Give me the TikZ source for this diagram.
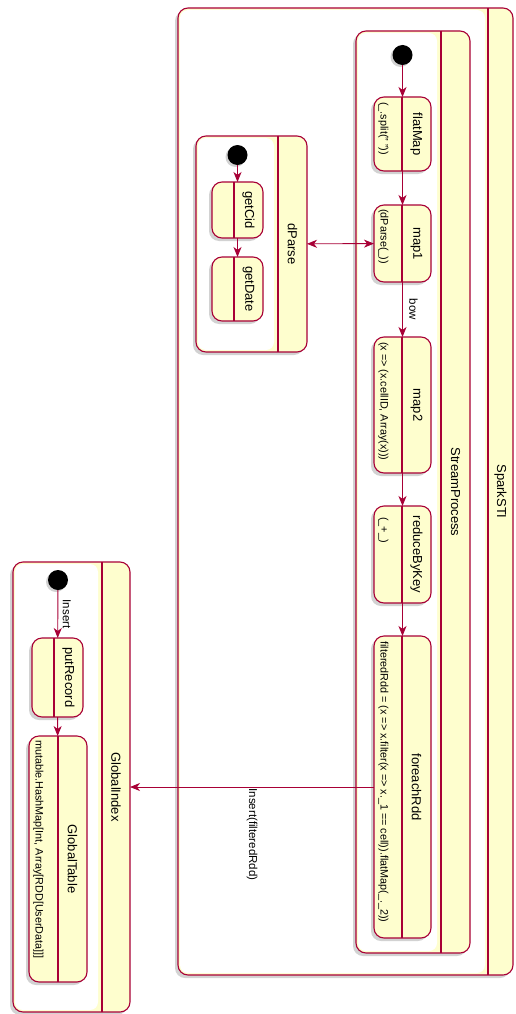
\documentclass[tikz,border=0pt]{standalone}
\usepackage{fontspec}
\setmainfont{Liberation Sans}
\usetikzlibrary{arrows.meta,shadows}
\definecolor{umlred}{HTML}{A80036}
\definecolor{umlfill}{HTML}{FEFECE}

\begin{document}
\begin{tikzpicture}[
x=1pt,y=-1pt,
composite/.style={draw=umlred,fill=umlfill,line width=1.1pt,rounded corners=10pt,inner sep=0pt,outer sep=0pt,
    drop shadow={shadow xshift=-3pt,shadow yshift=-3pt,opacity=.35}},
state/.style={composite,minimum width=57pt},
small state/.style={state,minimum width=51pt},
body/.style={fill=white,rounded corners=8pt},
splitline/.style={color=umlred,line width=1.1pt},
initial/.style={circle,fill=black,inner sep=0pt,minimum size=20pt,
    drop shadow={shadow xshift=-2pt,shadow yshift=-2pt,opacity=.35}},
edge/.style={umlred,line width=.9pt,-{Stealth[length=10pt,width=8pt,inset=3pt]}},
both edge/.style={edge,{Stealth[length=10pt,width=8pt,inset=3pt]}-{Stealth[length=10pt,width=8pt,inset=3pt]}},
title text/.style={rotate=-90,inner sep=0pt,font=\fontsize{13}{15}\selectfont},
desc text/.style={rotate=-90,anchor=west,inner sep=0pt,font=\fontsize{10.8}{13}\selectfont},
edge label/.style={rotate=-90,inner sep=1pt,text=black,font=\fontsize{11.5}{13}\selectfont}
]
\useasboundingbox (0,0) rectangle (515,1014);

% outer composite
\node[composite,minimum width=335pt,minimum height=967pt] (sparksti) at (345.5,491.5) {};
\path[body] ([xshift=2pt,yshift=-2pt]sparksti.north west) rectangle ([xshift=-28pt,yshift=2pt]sparksti.south east);
\draw[splitline] ([xshift=-25pt]sparksti.north east) -- ([xshift=-25pt]sparksti.south east);
\node[title text] at ([xshift=-12.5pt]sparksti.east) {SparkSTI};

% stream processing chain
\node[composite,minimum width=114pt,minimum height=922pt] (stream) at (413,492) {};
\path[body] ([xshift=2pt,yshift=-2pt]stream.north west) rectangle ([xshift=-33pt,yshift=2pt]stream.south east);
\draw[splitline] ([xshift=-29pt]stream.north east) -- ([xshift=-29pt]stream.south east);
\node[title text] at ([xshift=-14.5pt]stream.east) {StreamProcess};

\node[initial] (s0) at (402.5,55) {};
\node[state,minimum height=74pt] (flatmap) at (402.5,134) {};
\node[state,minimum height=77pt] (map1) at (402.5,243.5) {};
\node[state,minimum height=136pt] (map2) at (402.5,405) {};
\node[state,minimum height=97pt] (reduce) at (402.5,554.5) {};
\node[state,minimum height=302pt] (foreach) at (402.5,787) {};

% parser
\node[composite,minimum width=111pt,minimum height=216pt] (dparse) at (251.5,244) {};
\path[body] ([xshift=2pt,yshift=-2pt]dparse.north west) rectangle ([xshift=-33pt,yshift=2pt]dparse.south east);
\draw[splitline] ([xshift=-29pt]dparse.north east) -- ([xshift=-29pt]dparse.south east);
\node[title text] at ([xshift=-14.5pt]dparse.east) {dParse};

\node[initial] (d0) at (237.5,155) {};
\node[small state,minimum height=56pt] (getcid) at (237.5,210) {};
\node[small state,minimum height=64pt] (getdate) at (237.5,289) {};

% global index
\node[composite,minimum width=117pt,minimum height=450pt] (globalindex) at (71.5,787) {};
\path[body] ([xshift=2pt,yshift=-2pt]globalindex.north west) rectangle ([xshift=-32pt,yshift=2pt]globalindex.south east);
\draw[splitline] ([xshift=-28pt]globalindex.north east) -- ([xshift=-28pt]globalindex.south east);
\node[title text] at ([xshift=-14pt]globalindex.east) {GlobalIndex};

\node[initial] (g0) at (58,580) {};
\node[small state,minimum height=79pt] (putrecord) at (57.5,677.5) {};
\node[state,minimum width=58pt,minimum height=246pt] (globaltable) at (58,859) {};

% name / description split of every state
\foreach \s in {flatmap,map1,map2,reduce,foreach,getcid,getdate,putrecord,globaltable}
    \draw[splitline] ([xshift=-29pt]\s.north east) -- ([xshift=-29pt]\s.south east);

\node[title text] at ([xshift=-14.5pt]flatmap.east) {flatMap};
\node[title text] at ([xshift=-14.5pt]map1.east) {map1};
\node[title text] at ([xshift=-14.5pt]map2.east) {map2};
\node[title text] at ([xshift=-14.5pt]reduce.east) {reduceByKey};
\node[title text] at ([xshift=-14.5pt]foreach.east) {foreachRdd};
\node[title text] at ([xshift=-14.5pt]getcid.east) {getCid};
\node[title text] at ([xshift=-14.5pt]getdate.east) {getDate};
\node[title text] at ([xshift=-14.5pt]putrecord.east) {putRecord};
\node[title text] at ([xshift=-14.5pt]globaltable.east) {GlobalTable};

\node[desc text] at ([xshift=9.5pt,yshift=-5pt]flatmap.north west) {(\_.split(" "))};
\node[desc text] at ([xshift=9.5pt,yshift=-4pt]map1.north west) {(dParse(\_))};
\node[desc text] at ([xshift=9.5pt,yshift=-5pt]map2.north west) {(x => (x.cellID, Array(x)))};
\node[desc text] at ([xshift=9.5pt,yshift=-11pt]reduce.north west) {(\_+\_)};
\node[desc text] at ([xshift=9.5pt,yshift=-5pt]foreach.north west) {filteredRdd = (x => x.filter(x => x.\_1 == cell)).flatMap(\_.\_2))};
\node[desc text] at ([xshift=9.5pt,yshift=-4pt]globaltable.north west) {mutable.HashMap[Int, Array[RDD[UserData]]]};

% transitions
\draw[edge] (s0) -- (flatmap);
\draw[edge] (flatmap) -- (map1);
\draw[edge] (map1) -- node[xshift=11pt,edge label] {bow} (map2);
\draw[edge] (map2) -- (reduce);
\draw[edge] (reduce) -- (foreach);
\draw[both edge] (dparse) -- (map1);
\draw[edge] (d0) -- (getcid);
\draw[edge] (getcid) -- (getdate);
\draw[edge] (g0) -- node[xshift=9pt,edge label] {Insert} (putrecord);
\draw[edge] (putrecord) -- (globaltable);
\draw[edge] (foreach) -- node[edge label,anchor=west] {Insert(filteredRdd)} (globalindex);
\end{tikzpicture}
\end{document}
